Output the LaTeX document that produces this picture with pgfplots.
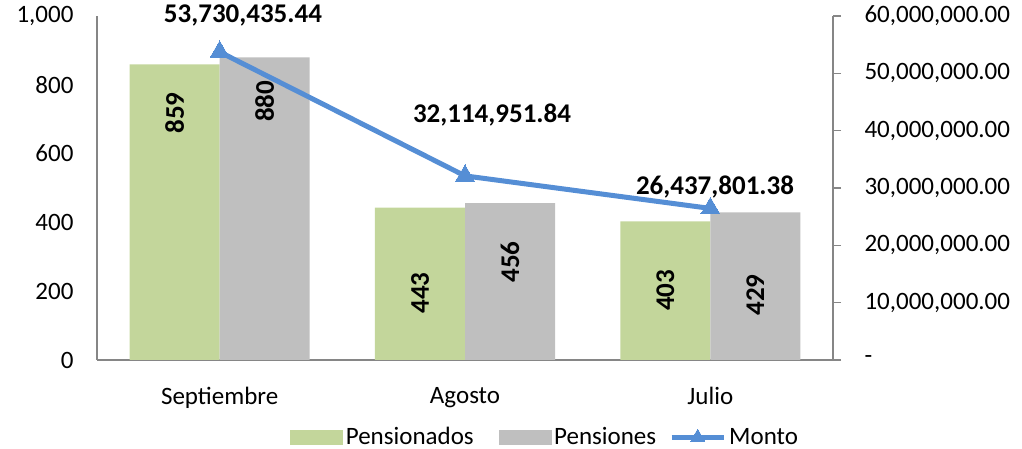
\documentclass[border=0pt]{standalone}
\usepackage{pgfplots}
\pgfplotsset{compat=1.18}
\usepackage{fontspec}
\setmainfont{Carlito}
\definecolor{cgreen}{HTML}{C3D69B}
\definecolor{cgray}{HTML}{BFBFBF}
\definecolor{cblue}{HTML}{558ED5}
\definecolor{caxis}{HTML}{868686}
\begin{document}
\begin{tikzpicture}[font=\fontsize{25}{29}\selectfont]
\useasboundingbox (0,0) rectangle (1022pt,449pt);
\begin{axis}[
  at={(97pt,89pt)}, anchor=south west,
  scale only axis, width=736pt, height=344pt,
  xmin=-0.5, xmax=2.5, ymin=0, ymax=1000,
  axis x line*=bottom, axis y line*=left,
  xtick={0,1,2}, xticklabels={Septiembre,Agosto,Julio},
  ytick={0,200,400,600,800,1000}, yticklabels={0,200,400,600,800,{1,000}},
  major tick length=0pt,
  axis line style={caxis, line width=1.3pt, -},
  xticklabel style={yshift=-24pt},
  yticklabel style={xshift=-20pt},
  clip=false,
]
\addplot[ybar, bar width=0.367, bar shift=-0.1835, fill=cgreen, draw=none] coordinates {(0,859)(1,443)(2,403)};
\addplot[ybar, bar width=0.367, bar shift=0.1835, fill=cgray, draw=none] coordinates {(0,880)(1,456)(2,429)};
\addplot[draw=none, mark=none, forget plot, nodes near coords, point meta=explicit symbolic,
  nodes near coords style={rotate=90, anchor=center, font=\fontsize{27}{30}\selectfont\bfseries}]
  table[meta=lab] {
x y lab
-0.183 718 859
0.183 752 880
0.817 195 443
1.183 285 456
1.817 203 403
2.183 189 429
};
\end{axis}
\begin{axis}[
  at={(97pt,89pt)}, anchor=south west,
  scale only axis, width=736pt, height=344pt,
  xmin=-0.5, xmax=2.5, ymin=0, ymax=60000000,
  axis x line=none, axis y line*=right,
  scaled y ticks=false,
  ytick={0,10000000,20000000,30000000,40000000,50000000,60000000},
  yticklabels={-,{10,000,000.00},{20,000,000.00},{30,000,000.00},{40,000,000.00},{50,000,000.00},{60,000,000.00}},
  tick align=outside, major tick length=8pt,
  tick style={caxis, line width=1.3pt},
  axis line style={caxis, line width=1.3pt, -},
  yticklabel style={xshift=20pt},
  clip=false,
  legend style={at={(0.609,-0.224)}, anchor=center, draw=none, fill=none,
    legend columns=3, column sep=1pt, inner sep=0pt,
    nodes={inner xsep=2pt}},
]
\addlegendimage{legend image code/.code={\fill[cgreen] (0pt,-7pt) rectangle (52pt,7pt);}}
\addlegendentry{Pensionados\rule{22pt}{0pt}}
\addlegendimage{legend image code/.code={\fill[cgray] (0pt,-7pt) rectangle (52pt,7pt);}}
\addlegendentry{Pensiones\rule{10pt}{0pt}}
\addplot[cblue, line width=5pt, mark=triangle*, mark size=11pt, mark options={solid, line width=0pt},
  legend image code/.code={\draw[cblue, line width=5pt, mark=triangle*, mark size=8pt, mark options={solid, line width=0pt}, mark repeat=2, mark phase=2] plot coordinates {(0pt,0pt)(26pt,0pt)(52pt,0pt)};}]
  coordinates {(0,53730435.44)(1,32114951.84)(2,26437801.38)};
\addlegendentry{Monto}
\addplot[draw=none, mark=none, forget plot, nodes near coords, point meta=explicit symbolic,
  nodes near coords style={anchor=center, font=\fontsize{27}{30}\selectfont\bfseries}]
  table[meta=lab] {
x y lab
0.095 60170000 {53,730,435.44}
1.110 42730000 {32,114,951.84}
2.019 30170000 {26,437,801.38}
};
\end{axis}
\end{tikzpicture}
\end{document}
